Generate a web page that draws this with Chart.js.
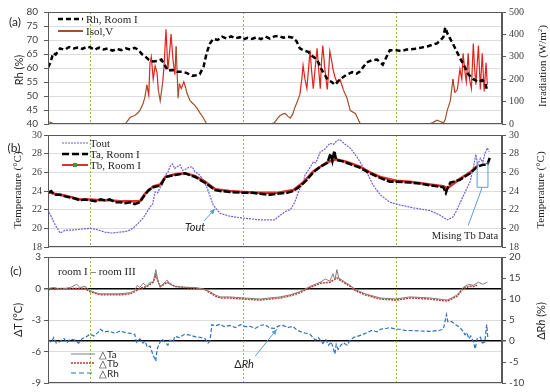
<!DOCTYPE html>
<html>
<head>
<meta charset="utf-8">
<script src="https://cdn.jsdelivr.net/npm/chart.js@4.4.1/dist/chart.umd.min.js"></script>
<style>
  body { margin: 0; background: #fff; }
  #wrap { position: relative; width: 550px; height: 392px; overflow: hidden; }
  .panel { position: absolute; left: 0; top: 0; width: 550px; height: 392px; }
  .lbl { position: absolute; white-space: nowrap; color: #262626; transform: translate(-50%, -50%); }
  .left { transform: translate(0, -50%); }
  .rot { transform: translate(-50%, -50%) rotate(-90deg); }
  .serif { font-family: "Liberation Serif", "DejaVu Serif", serif; }
  .sans { font-family: Lato, "Liberation Sans", sans-serif; }
</style>
</head>
<body>
<div id="wrap">
  <div class="panel"><canvas id="chart-a"></canvas></div>
  <div class="panel"><canvas id="chart-b"></canvas></div>
  <div class="panel"><canvas id="chart-c"></canvas></div>

  <div class="lbl sans" style="left:15px;top:21px;font-size:12px">(a)</div>
  <div class="lbl sans" style="left:14px;top:147px;font-size:12px">(b)</div>
  <div class="lbl sans" style="left:16px;top:270px;font-size:12px">(c)</div>

  <div class="lbl rot sans" style="left:18px;top:70px;font-size:11px">Rh (%)</div>
  <div class="lbl rot serif" style="left:542px;top:66px;font-size:11px">Irradiation (W/m<sup style="font-size:7px">2</sup>)</div>
  <div class="lbl rot serif" style="left:17px;top:190px;font-size:11px">Temperature (°C)</div>
  <div class="lbl rot serif" style="left:540px;top:190px;font-size:11px">Temperature (°C)</div>
  <div class="lbl rot sans" style="left:17px;top:320px;font-size:11px">ΔT (°C)</div>
  <div class="lbl rot sans" style="left:540px;top:321px;font-size:11px">ΔR<i>h</i> (%)</div>

  <div class="lbl left serif" style="left:86px;top:19px;font-size:11px">Rh, Room I</div>
  <div class="lbl left serif" style="left:86px;top:31px;font-size:11px">Isol,V</div>
  <div class="lbl left serif" style="left:90px;top:143px;font-size:11px">Tout</div>
  <div class="lbl left serif" style="left:90px;top:154px;font-size:11px">Ta, Room I</div>
  <div class="lbl left serif" style="left:90px;top:165px;font-size:11px">Tb, Room I</div>
  <div class="lbl left serif" style="left:58px;top:271px;font-size:11px">room I – room III</div>
  <div class="lbl left sans" style="left:99px;top:354px;font-size:10px">△Ta</div>
  <div class="lbl left sans" style="left:99px;top:363px;font-size:10px">△Tb</div>
  <div class="lbl left sans" style="left:99px;top:373px;font-size:10px">△Rh</div>

  <div class="lbl sans" style="left:195px;top:226px;font-size:11px;font-style:italic">Tout</div>
  <div class="lbl serif" style="left:465px;top:235px;font-size:10.5px">Mising Tb Data</div>
  <div class="lbl sans" style="left:244px;top:363px;font-size:11px">Δ<i>Rh</i></div>
</div>

<script>
// time axis: hours from the start of the record, midnights marked
const days = [6.6, 30.6, 54.6];
const tMax = 71.2;

// (a) relative humidity and vertical irradiation
const rhHours = [0,0.4,0.8,1.2,1.9,2.6,3.3,4.0,4.7,5.4,6.1,6.6,7.3,8.0,8.7,9.4,10.1,10.8,11.5,12.2,12.9,13.6,14.2,14.7,15.2,15.8,16.5,17.2,17.8,18.3,18.8,19.5,20.2,21.2,21.8,22.6,23.2,23.8,24.4,24.9,25.4,25.9,26.6,27.3,28.0,28.7,29.4,30.1,30.6,31.3,32.0,32.7,33.4,34.1,34.8,35.5,36.2,36.9,37.5,38.4,39.0,39.5,40.2,40.8,41.3,41.9,42.4,42.7,43.3,43.9,44.5,45.0,45.6,46.3,47.0,47.7,48.4,48.9,49.5,50.0,50.8,51.6,52.1,52.5,53.1,53.6,54.7,55.5,56.2,56.8,57.6,58.4,59.5,60.3,61.0,61.5,62.0,62.3,62.7,63.5,64.6,65.4,65.9,66.7,67.5,68.1,68.6,68.9];
const rhRoom1 = [60.2,62,65.3,64.8,67,66.5,67.5,67.0,67.3,66.8,67.6,67.4,66.5,67.3,66.6,67.0,66.2,66.8,66.4,67.0,66.6,67.2,66.5,65.0,64.2,63.0,62.3,62.5,63.0,61.0,59.0,59.3,58.7,58.6,58.2,57.2,57.4,57.8,60.5,65.5,68.7,70.4,70.0,71.2,70.5,71.3,70.6,71.0,70.2,70.8,70.4,71.0,70.3,71.2,70.5,71.3,71.5,70.8,71.2,70.8,69.5,67,66.2,65.8,64.5,63.5,62.0,60.2,58.0,55.7,55.0,54.0,55.5,56.8,57.8,58.5,58.0,58.7,60.5,62,62.8,63,62.0,61.2,64.0,66.3,66.3,66.0,66.6,66.7,66.9,67.2,67.7,68.3,68.8,69.8,71.0,74.5,72,68.7,63.6,60.2,57.8,56.0,55.0,55.7,54.5,51.5];

const isolHours = [0,0.4,0.8,1.2,12.1,12.9,13.6,14.0,14.4,14.9,15.2,15.5,15.8,16.0,16.2,16.5,16.8,17.1,17.3,17.6,18.0,18.2,18.5,18.8,19.1,19.3,19.6,19.9,20.1,20.4,20.6,20.9,21.3,21.6,21.8,22.3,22.6,23.1,23.5,23.8,24.3,24.9,34.8,35.5,36.0,36.4,36.9,37.2,37.6,38.0,38.4,38.7,39.1,39.5,39.8,40.0,40.3,40.6,40.9,41.1,41.3,41.6,41.9,42.2,42.4,42.7,42.9,43.1,43.4,43.8,44.0,44.2,44.5,44.7,45.0,45.3,45.8,46.3,46.9,47.4,48.2,48.5,48.9,49.3,59.5,60.3,61.0,61.6,62.0,62.3,62.6,63.1,63.5,63.8,64.2,64.6,64.9,65.1,65.4,65.6,65.9,66.1,66.4,66.7,66.9,67.1,67.5,67.8,68.1,68.4,68.7,68.9];
const isolV = [10,8,2,0,0,30,38,47,60,90,120,175,130,273,300,200,260,230,150,103,188,260,423,244,330,402,286,220,346,115,180,158,188,160,137,103,95,81,65,51,30,0,0,5,25,38,45,47,35,26,45,73,100,132,200,261,200,158,260,329,250,158,250,338,260,158,280,350,250,154,230,325,280,244,210,188,200,154,115,60,47,30,4,0,0,5,17,10,5,20,60,103,200,140,154,244,200,316,230,188,316,200,158,359,250,175,350,154,316,145,273,175];

// (b) temperatures
const toutHours = [0,1.1,1.9,2.7,3.5,5.0,6.6,7.5,8.9,10.0,11.3,12.5,13.3,14.1,14.9,15.5,16.0,16.4,16.8,17.2,17.6,18.0,18.4,18.8,19.1,19.5,19.9,20.2,20.7,21.1,21.5,22.0,22.6,23.0,23.8,24.3,24.9,25.4,25.9,26.5,27.0,28.5,30.6,32.0,33.3,34.8,35.5,36.4,37.2,38.0,38.7,39.5,40.0,40.3,40.8,41.6,42.0,42.7,43.3,44.2,44.8,45.3,45.8,46.4,47.0,47.4,48.5,49.2,50.0,51.0,52.1,53.6,54.6,55.2,57.3,59.9,61.5,62.6,63.5,64.0,64.6,65.7,66.2,66.7,67.1,67.4,67.8,68.2,68.5,68.9,69.2];
const tout = [22.0,20.4,19.5,19.8,19.8,19.9,20.0,19.9,19.6,19.5,19.6,19.7,20.0,20.5,21.1,21.7,22.3,22.6,23.9,23.8,24.4,24.7,25.7,26.0,26.6,26.9,26.4,26.6,26.8,26.2,26.3,26.5,26.6,26.1,25.7,25.2,24.4,23.5,22.5,22.0,21.6,21.3,21.1,21.0,20.9,20.9,20.9,21.4,21.8,22.0,22.8,24.3,24.8,25.7,26.2,27.1,27.0,28.2,28.4,29.1,29.0,29.4,29.5,29.1,28.8,28.6,27.6,26.8,26.0,24.6,23.6,22.8,22.6,22.5,22.2,21.9,21.4,20.9,21.2,21.8,22.7,24.3,25.0,26.5,27.9,26.8,27.5,27.1,28.0,28.6,28.2];

const taHours = [0,0.5,1.0,1.9,2.8,3.5,4.2,5.0,5.8,6.6,7.4,8.2,8.9,9.7,10.5,11.3,12.1,12.9,13.6,14.4,14.9,15.2,15.8,16.5,17.1,17.6,18.0,18.4,19.1,19.9,20.6,21.5,22.3,23.1,23.8,24.6,25.4,26.2,27.0,28.5,30.6,32.0,33.3,34.8,35.8,37.5,38.5,39.1,40.0,40.6,41.6,42.7,43.8,44.3,44.6,44.9,45.2,46.1,46.9,47.7,48.9,50.5,52.1,53.6,54.6,56.8,58.3,59.9,61.0,62.0,62.4,62.6,63.1,64.6,66.2,67.3,68.2,68.9,69.3];
const taRoom1 = [23.8,24.0,23.6,23.6,23.4,23.3,23.2,23.0,23.1,23.0,22.9,23.1,23.0,23.1,22.8,22.8,22.7,22.8,22.6,22.8,23.3,23.6,24.1,24.4,24.5,24.6,25.0,25.5,25.6,25.7,25.8,25.9,25.7,25.5,25.2,24.9,24.5,24.1,24.0,23.9,23.8,23.8,23.7,23.6,23.7,23.8,24.0,24.3,24.8,25.2,26.0,26.6,27.0,28.0,27.2,28.3,27.3,27.2,27.0,26.8,26.5,25.9,25.4,25.0,25.0,24.9,24.8,24.6,24.5,24.4,23.8,24.2,24.9,25.2,25.9,26.6,26.8,26.8,27.6];

const tbHours = [0,1.0,2.8,5.0,6.6,8.2,9.7,11.3,12.9,14.4,15.2,16.5,17.6,18.4,19.9,21.5,23.1,24.6,26.2,28.5,30.6,33.3,35.8,38.5,40.0,41.6,42.7,43.8,45.2,46.9,48.9,50.5,52.1,54.6,56.8,59.9,62.0,62.6,64.6,66.2,67.3];
const tbRoom1 = [23.9,23.7,23.5,23.1,23.1,23.0,23.0,22.9,22.9,22.9,23.7,24.5,24.7,25.5,25.8,25.9,25.6,25.0,24.2,24.0,23.9,23.8,23.8,24.1,24.9,26.1,26.6,27.1,27.4,27.1,26.6,26.0,25.5,25.1,25.0,24.7,24.5,24.3,25.3,26.0,26.7];

// (c) room I - room III differences
const dTaHours = [0,1.0,2.0,3.5,4.5,5.0,5.8,6.6,7.4,8.2,9.7,11.3,12.9,13.6,14.0,14.4,14.9,15.5,16.0,16.5,16.9,17.3,17.6,18.0,18.7,19.1,19.9,21.5,23.0,24.6,25.4,26.2,27.0,28.5,30.6,33.3,34.8,36.4,38.0,39.5,41.1,42.7,43.5,44.2,44.7,45.0,45.3,45.6,46.6,47.4,48.2,49.7,52.1,54.6,56.8,59.9,62.6,63.3,64.2,65.1,66.0,66.7,67.5,68.2,68.9];
const dTa = [0,0.1,-0.1,0.1,0.4,0.1,0.2,-0.2,-0.4,-0.5,-0.5,-0.5,-0.4,-0.2,0.3,0.1,0.5,0.2,0.6,0.6,1.8,0.6,0.1,0.4,0.8,0.4,0.2,0.1,0.1,-0.1,-0.3,-0.6,-0.8,-0.8,-0.9,-1.0,-0.9,-0.8,-0.6,-0.3,0.2,0.6,0.9,0.7,1.4,0.8,1.8,1.0,0.6,0.3,-0.1,-0.5,-0.9,-1.0,-0.8,-0.9,-1.1,-0.9,-0.6,0.1,0.4,0.3,0.6,0.4,0.6];

const dTbHours = [0,2.0,4.0,5.8,6.6,8.2,9.7,11.3,12.9,13.6,14.4,15.5,16.5,16.9,17.3,17.6,18.7,19.9,21.5,23.8,24.6,25.4,26.2,27.0,28.5,30.6,33.3,34.8,36.4,38.0,39.5,41.1,42.7,44.2,45.3,46.6,47.4,48.2,49.7,52.1,54.6,56.8,59.9,62.6,63.3,64.2,65.1,66.0,66.7,67.3];
const dTb = [-0.1,0,0,0,-0.3,-0.6,-0.6,-0.6,-0.5,-0.3,0,0.2,0.6,1.3,0.6,0.2,0.6,0.2,0.1,0,-0.1,-0.4,-0.7,-0.9,-0.9,-1.0,-1.1,-1.0,-0.9,-0.7,-0.4,0.1,0.5,0.6,1.0,0.5,0.2,-0.2,-0.6,-1.0,-1.1,-0.9,-1.0,-1.2,-1.0,-0.7,0,0.2,0.2,0.3];

const dRhHours = [0,0.5,0.9,1.3,1.9,2.5,3.0,3.5,4.2,4.8,5.4,6.0,6.6,7.2,7.8,8.2,8.8,9.7,10.5,11.3,12.1,12.9,13.6,13.9,14.4,14.9,15.2,15.6,16.0,16.4,16.9,17.1,17.3,17.8,18.4,18.8,19.1,19.6,19.9,20.6,21.4,22.3,23.1,23.8,24.6,25.1,25.4,25.7,26.2,27.0,27.6,28.5,29.4,30.2,31.0,31.7,32.5,33.3,34.0,34.8,35.5,36.2,36.9,37.6,38.4,38.9,39.5,40.3,41.1,41.9,42.4,43.1,43.6,44.0,44.4,44.7,45.0,45.2,45.5,45.8,46.3,46.9,47.4,48.0,48.5,49.3,50.0,50.8,51.6,52.1,52.8,53.6,54.6,55.2,56.0,56.8,58.0,59.9,61.3,62.0,62.5,62.7,63.3,63.5,64.0,64.6,65.0,65.4,65.7,66.0,66.3,66.7,67.0,67.3,67.8,68.1,68.5,68.8,69.0];
const dRh = [0.4,-0.3,0.8,-0.5,-0.1,0.6,-0.4,0.5,0.2,-0.5,0.6,1.0,1.6,1.2,2.0,2.8,2.2,2.3,1.8,2.4,2.0,1.8,1.6,-0.3,0.5,-0.5,0.0,-1.5,-1.2,-3.0,-4.8,-2.0,-1.2,0.5,-0.3,-1.0,0.2,-0.2,1.1,0.8,1.6,1.4,1.0,0.9,0.6,-0.5,0.0,3.9,3.6,4.0,3.4,3.7,3.2,3.9,3.4,3.5,3.0,3.7,3.9,3.1,3.0,3.6,3.7,3.2,3.5,2.8,2.3,1.9,1.6,0.2,0.8,-0.6,0.3,-1.0,-0.2,-1.5,-3.1,-0.8,-2.0,-1.3,-0.4,-1.0,0.2,0.9,1.1,1.5,2.0,2.5,2.2,2.8,2.9,3.2,2.8,2.8,2.5,2.5,2.4,2.3,2.5,2.8,6.3,4.6,4.6,4.4,3.8,3.2,2.5,1.5,2.0,0.5,1.2,-0.1,-1.9,0.6,0.9,-0.5,-0.3,3.9,0.4];

const tickColor = '#404040';
const frameColor = '#595959';
const gridColor = '#dcdcdc';
const serif = '"Liberation Serif", "DejaVu Serif", serif';
const sans = 'Lato, "Liberation Sans", sans-serif';

function pts(hours, vals) {
    return hours.map((h, i) => ({ x: h, y: vals[i] }));
}

function yAxis(position, min, max, step, family, pad, onArea) {
    return {
        type: 'linear', position: position, min: min, max: max,
        afterFit: s => { s.width = 48; },
        ticks: { stepSize: step, autoSkip: false, color: tickColor, padding: pad, font: { family: family, size: 10 } },
        grid: { color: gridColor, tickColor: frameColor, tickLength: 4, drawOnChartArea: onArea },
        border: { color: frameColor }
    };
}

function arrow(ctx, x1, y1, x2, y2, color) {
    ctx.save();
    ctx.strokeStyle = color; ctx.fillStyle = color; ctx.lineWidth = 1; ctx.setLineDash([]);
    ctx.beginPath(); ctx.moveTo(x1, y1); ctx.lineTo(x2, y2); ctx.stroke();
    const ang = Math.atan2(y2 - y1, x2 - x1), L = 6;
    ctx.beginPath(); ctx.moveTo(x2, y2);
    ctx.lineTo(x2 - L * Math.cos(ang - 0.4), y2 - L * Math.sin(ang - 0.4));
    ctx.lineTo(x2 - L * Math.cos(ang + 0.4), y2 - L * Math.sin(ang + 0.4));
    ctx.closePath(); ctx.fill();
    ctx.restore();
}

function sample(ctx, y, color, width, dash) {
    ctx.save();
    ctx.strokeStyle = color; ctx.lineWidth = width; ctx.setLineDash(dash);
    ctx.beginPath(); ctx.moveTo(y[0], y[2]); ctx.lineTo(y[1], y[2]); ctx.stroke();
    ctx.restore();
}

// frame, midnight markers and per-panel extras
function decor(extra) {
    return {
        id: 'decor',
        beforeDatasetsDraw(chart) {
            const { ctx, chartArea: a, scales: { x } } = chart;
            ctx.save();
            ctx.strokeStyle = '#8dbb4c'; ctx.lineWidth = 1; ctx.setLineDash([2, 2]);
            days.forEach(d => {
                const px = Math.round(x.getPixelForValue(d)) + 0.5;
                ctx.beginPath(); ctx.moveTo(px, a.top); ctx.lineTo(px, a.bottom); ctx.stroke();
            });
            ctx.restore();
        },
        afterDraw(chart) {
            const { ctx, chartArea: a } = chart;
            ctx.save();
            ctx.strokeStyle = frameColor; ctx.lineWidth = 1;
            ctx.strokeRect(Math.round(a.left) + 0.5, Math.round(a.top) + 0.5,
                Math.round(a.right - a.left) - 1, Math.round(a.bottom - a.top) - 1);
            ctx.restore();
            if (extra) extra(ctx, chart);
        }
    };
}

function baseOptions(pad) {
    return {
        responsive: true, maintainAspectRatio: false, animation: false,
        layout: { padding: pad },
        plugins: { legend: { display: false }, tooltip: { enabled: false } },
        elements: { point: { radius: 0 }, line: { tension: 0 } }
    };
}

const xAxis = { type: 'linear', min: 0, max: tMax, display: false };

// (a)
const optA = baseOptions({ top: 7, bottom: 268, left: 0, right: 0 });
optA.scales = {
    x: xAxis,
    y: yAxis('left', 40, 80, 5, sans, 6, true),
    y2: yAxis('right', 0, 500, 100, serif, 3, false)
};
new Chart(document.getElementById('chart-a'), {
    type: 'line',
    data: {
        datasets: [
            { label: 'Rh, Room I', data: pts(rhHours, rhRoom1), yAxisID: 'y',
              borderColor: '#000', borderWidth: 2.5, borderDash: [5, 3] },
            { label: 'Isol,V', data: pts(isolHours, isolV), yAxisID: 'y2',
              borderColor: '#a0522d', borderWidth: 1.2,
              segment: { borderColor: c => (c.p0.parsed.y > 170 && c.p1.parsed.y > 120) || (c.p1.parsed.y > 170 && c.p0.parsed.y > 120) ? '#e3221b' : '#a0522d' } }
        ]
    },
    options: optA,
    plugins: [decor(ctx => {
        sample(ctx, [58, 83, 19], '#000', 2.5, [5, 3]);
        sample(ctx, [58, 83, 31], '#a0522d', 2, []);
    })]
});

// (b)
const optB = baseOptions({ top: 135, bottom: 145, left: 0, right: 0 });
optB.scales = {
    x: xAxis,
    y: yAxis('left', 18, 30, 2, serif, 2, true),
    y2: yAxis('right', 18, 30, 2, serif, 3, false)
};
new Chart(document.getElementById('chart-b'), {
    type: 'line',
    data: {
        datasets: [
            { label: 'Ta, Room I', data: pts(taHours, taRoom1), yAxisID: 'y',
              borderColor: '#000', borderWidth: 2.5, borderDash: [7, 2] },
            { label: 'Tb, Room I', data: pts(tbHours, tbRoom1), yAxisID: 'y',
              borderColor: '#e0302a', borderWidth: 2.5 },
            { label: 'Tout', data: pts(toutHours, tout), yAxisID: 'y',
              borderColor: '#6f5fd6', borderWidth: 1.2, borderDash: [2, 1] }
        ]
    },
    options: optB,
    plugins: [decor((ctx, chart) => {
        const x = chart.scales.x, y = chart.scales.y;
        sample(ctx, [62, 88, 143], '#6f5fd6', 1.2, [2, 1]);
        sample(ctx, [62, 88, 154], '#000', 2.5, [7, 3]);
        sample(ctx, [62, 88, 165], '#e0302a', 2, []);
        ctx.fillStyle = '#3a9a3a';
        ctx.fillRect(73, 163, 4, 4);
        // Tout pointer
        arrow(ctx, x.getPixelForValue(24.5), y.getPixelForValue(20.8),
            x.getPixelForValue(26.2), y.getPixelForValue(22.1), '#5b9bd5');
        // missing Tb bracket
        const bx1 = x.getPixelForValue(67.3), bx2 = x.getPixelForValue(69.0);
        const byT = y.getPixelForValue(27.1), byB = y.getPixelForValue(24.4);
        ctx.save();
        ctx.strokeStyle = '#5b9bd5'; ctx.lineWidth = 1;
        ctx.beginPath();
        ctx.moveTo(bx1, byT); ctx.lineTo(bx1, byB); ctx.lineTo(bx2, byB); ctx.lineTo(bx2, byT);
        ctx.moveTo(x.getPixelForValue(68.1), byB);
        ctx.lineTo(x.getPixelForValue(65.9), y.getPixelForValue(20.3));
        ctx.stroke();
        ctx.restore();
    })]
});

// (c)
const optC = baseOptions({ top: 257, bottom: 8, left: 0, right: 0 });
const yC = yAxis('left', -9, 3, 3, sans, 3, true);
yC.grid.color = c => c.tick && c.tick.value === 0 ? '#000' : gridColor;
yC.grid.lineWidth = c => c.tick && c.tick.value === 0 ? 1.5 : 1;
const yC2 = yAxis('right', -10, 20, 5, sans, 3, true);
yC2.grid.color = c => c.tick && c.tick.value === 0 ? '#000' : 'rgba(0,0,0,0)';
yC2.grid.lineWidth = c => c.tick && c.tick.value === 0 ? 1.5 : 1;
optC.scales = { x: xAxis, y: yC, y2: yC2 };
new Chart(document.getElementById('chart-c'), {
    type: 'line',
    data: {
        datasets: [
            { label: '△Ta', data: pts(dTaHours, dTa), yAxisID: 'y',
              borderColor: '#7f7f7f', borderWidth: 1 },
            { label: '△Tb', data: pts(dTbHours, dTb), yAxisID: 'y',
              borderColor: '#c0392b', borderWidth: 1.6, borderDash: [2, 1] },
            { label: '△Rh', data: pts(dRhHours, dRh), yAxisID: 'y2',
              borderColor: '#2e6fc0', borderWidth: 1.2, borderDash: [4, 2] }
        ]
    },
    options: optC,
    plugins: [decor((ctx, chart) => {
        const x = chart.scales.x, y2 = chart.scales.y2;
        sample(ctx, [71, 95, 354], '#7f7f7f', 1, []);
        sample(ctx, [71, 95, 363], '#c0392b', 1.6, [2, 1]);
        sample(ctx, [71, 95, 373], '#2e6fc0', 1.2, [5, 3]);
        arrow(ctx, x.getPixelForValue(32.5), y2.getPixelForValue(-3.6),
            x.getPixelForValue(35.9), y2.getPixelForValue(2.8), '#5b9bd5');
    })]
});
</script>
</body>
</html>
